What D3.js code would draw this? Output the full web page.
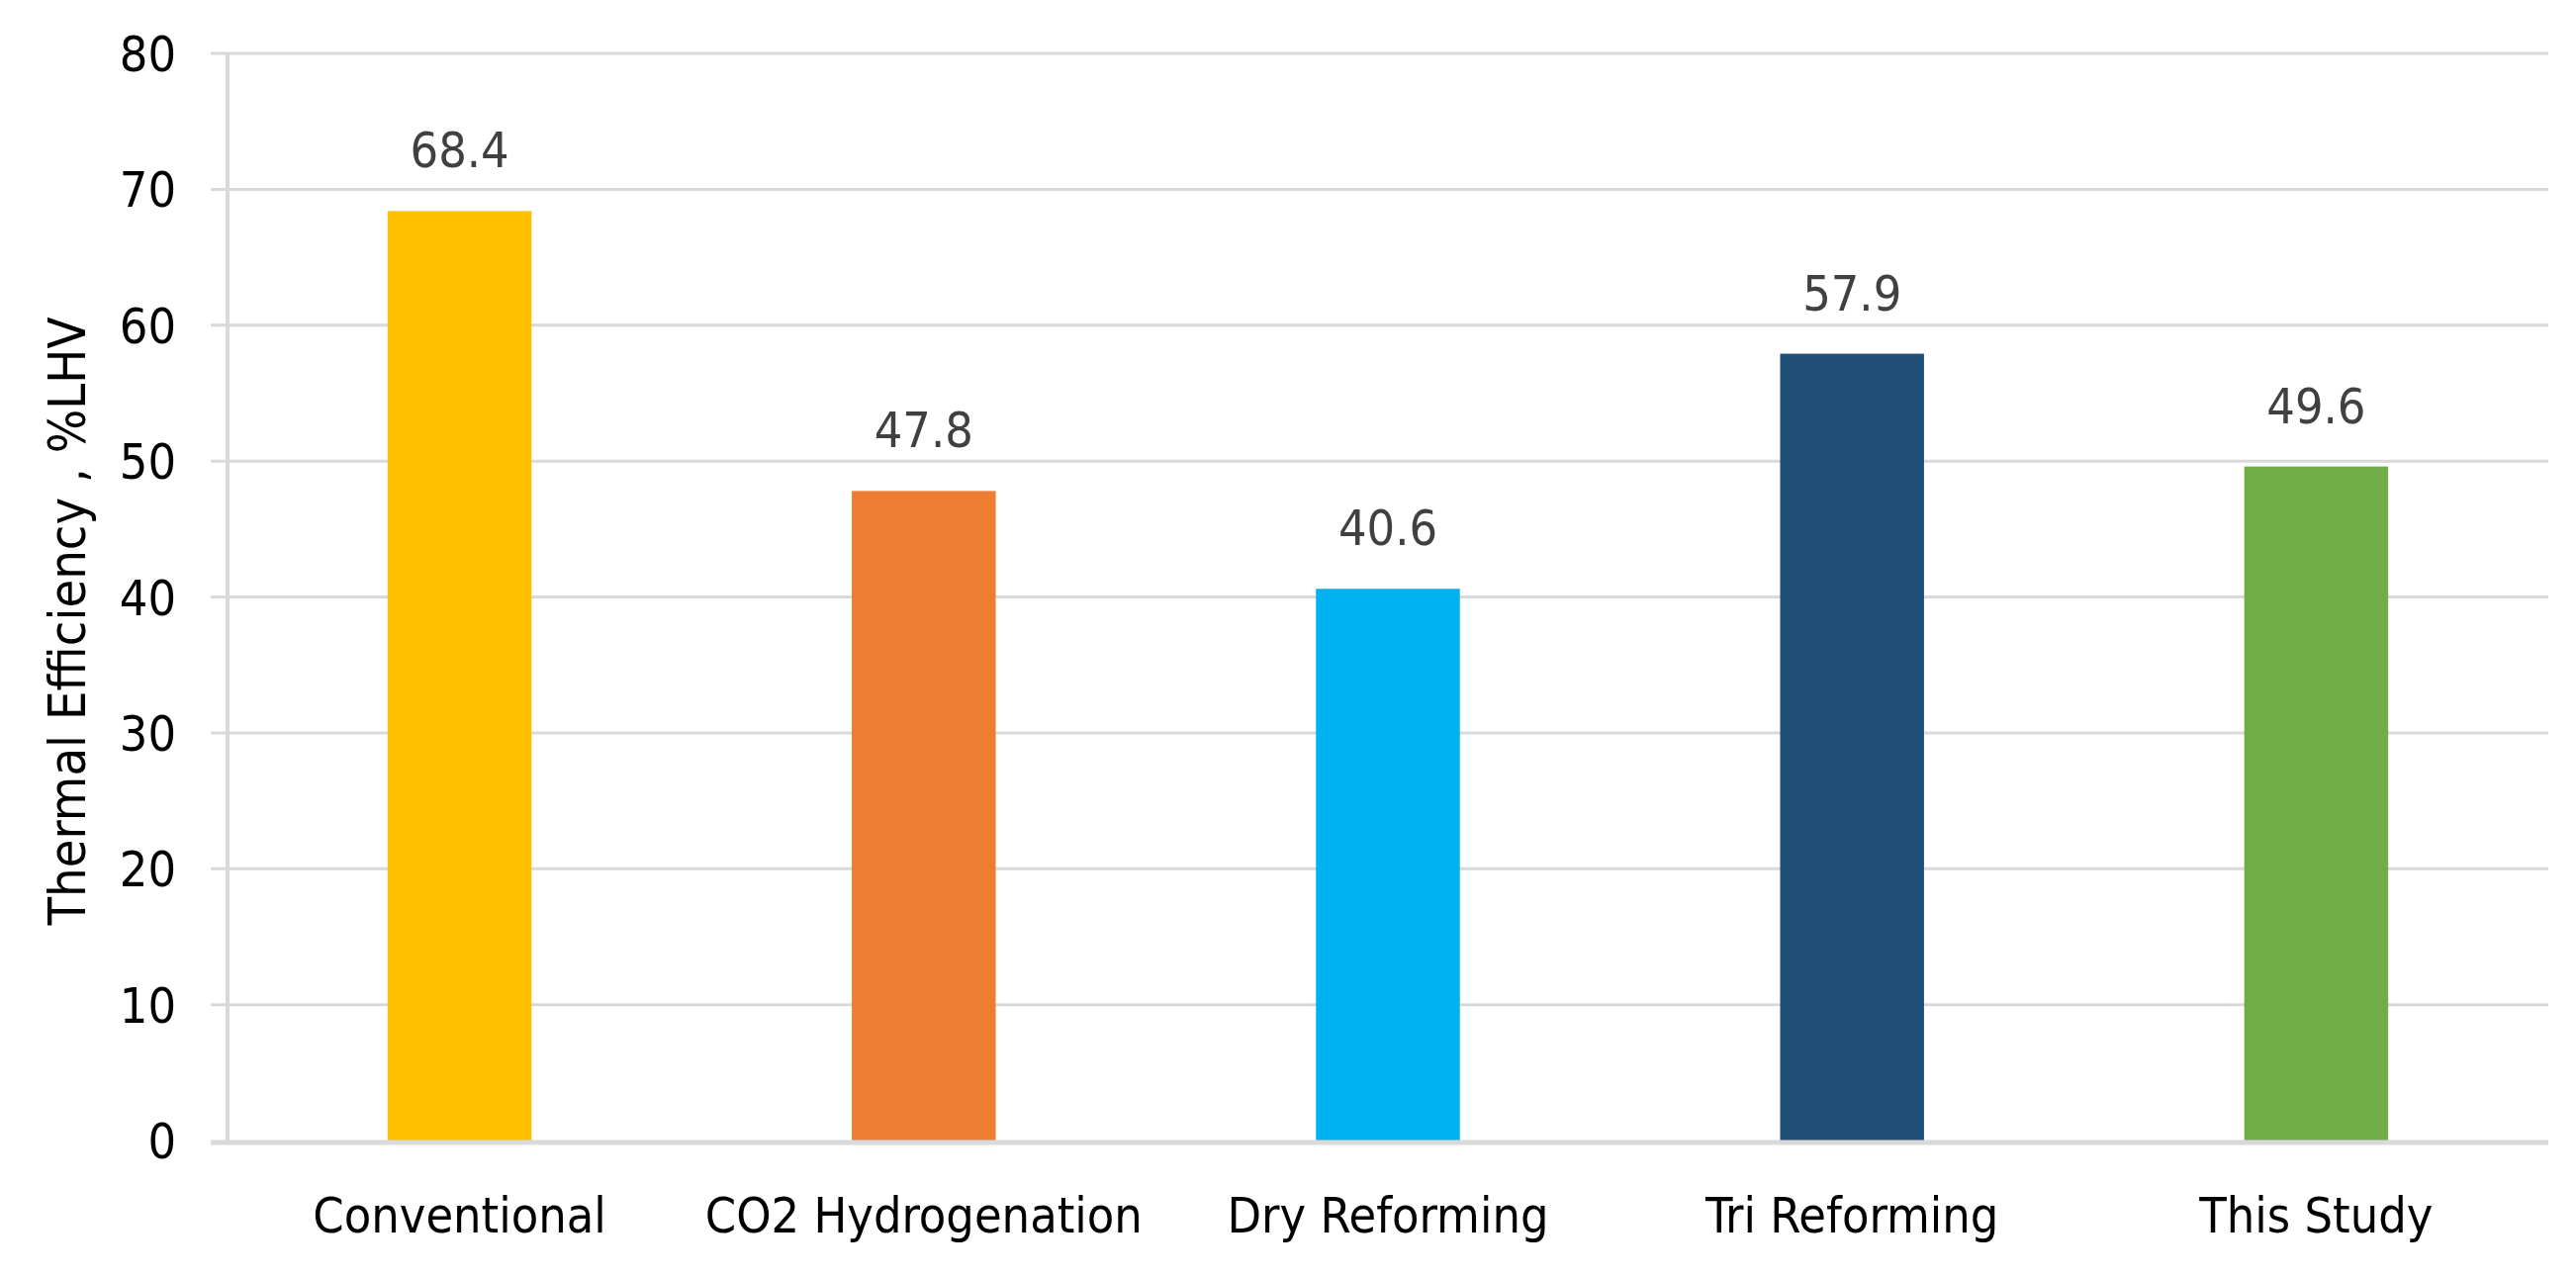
<!DOCTYPE html>
<html>
<head>
<meta charset="utf-8">
<script src="https://cdn.jsdelivr.net/npm/d3@7"></script>
<style>
  body { margin: 0; background: #fff; }
  text { font-family: "DejaVu Sans Condensed", "DejaVu Sans", sans-serif; font-stretch: condensed; }
</style>
</head>
<body>
<div id="chart"></div>
<script>
// categories and values
var categories = ["Conventional", "CO2 Hydrogenation", "Dry Reforming", "Tri Reforming", "This Study"];
var values = [68.4, 47.8, 40.6, 57.9, 49.6];
var barColors = ["#FFC000", "#ED7D31", "#00B0F0", "#1F4E79", "#70AD47"];
var yTicks = [0, 10, 20, 30, 40, 50, 60, 70, 80];
var yTitle = "Thermal Efficiency , %LHV";

var W = 2604, H = 1291;
var margin = { left: 230, right: 2576, top: 54, bottom: 1153 };

var svg = d3.select("#chart")
    .append("svg")
    .attr("width", W)
    .attr("height", H);

// scales
var x = d3.scaleBand()
    .domain(categories)
    .range([margin.left, margin.right])
    .paddingInner(0.69)
    .paddingOuter(0.345);

var y = d3.scaleLinear()
    .domain([0, 80])
    .range([margin.bottom, margin.top]);

// gridlines (with the short tick stubs left of the axis)
svg.append("g")
    .selectAll("line")
    .data(yTicks.filter(function (d) { return d > 0; }))
    .enter()
    .append("line")
    .attr("x1", margin.left - 17)
    .attr("x2", margin.right)
    .attr("y1", function (d) { return y(d); })
    .attr("y2", function (d) { return y(d); })
    .attr("stroke", "#d9d9d9")
    .attr("stroke-width", 3);

// vertical axis line
svg.append("line")
    .attr("x1", margin.left).attr("x2", margin.left)
    .attr("y1", y(80)).attr("y2", y(0))
    .attr("stroke", "#d9d9d9")
    .attr("stroke-width", 4);

// y tick labels
svg.append("g")
    .selectAll("text")
    .data(yTicks)
    .enter()
    .append("text")
    .attr("x", 178)
    .attr("y", function (d) { return y(d); })
    .attr("dy", "0.36em")
    .attr("text-anchor", "end")
    .style("font-size", "50px")
    .style("fill", "#000")
    .text(function (d) { return d; });

// bars
var data = categories.map(function (c, i) { return { cat: c, value: values[i], color: barColors[i] }; });

svg.append("g")
    .selectAll("rect")
    .data(data)
    .enter()
    .append("rect")
    .attr("x", function (d) { return x(d.cat); })
    .attr("y", function (d) { return y(d.value); })
    .attr("width", x.bandwidth())
    .attr("height", function (d) { return y(0) - y(d.value); })
    .attr("fill", function (d) { return d.color; });

// baseline (0 line) drawn over bar bottoms
svg.append("line")
    .attr("x1", margin.left - 17).attr("x2", margin.right)
    .attr("y1", y(0) + 2).attr("y2", y(0) + 2)
    .attr("stroke", "#d9d9d9")
    .attr("stroke-width", 5);

// value labels
svg.append("g")
    .selectAll("text")
    .data(data)
    .enter()
    .append("text")
    .attr("x", function (d) { return x(d.cat) + x.bandwidth() / 2; })
    .attr("y", function (d) { return y(d.value) - 44; })
    .attr("text-anchor", "middle")
    .style("font-size", "50px")
    .style("fill", "#404040")
    .text(function (d) { return d.value.toFixed(1); });

// category labels
svg.append("g")
    .selectAll("text")
    .data(categories)
    .enter()
    .append("text")
    .attr("x", function (d) { return x(d) + x.bandwidth() / 2; })
    .attr("y", 1246)
    .attr("text-anchor", "middle")
    .style("font-size", "50px")
    .style("fill", "#000")
    .text(function (d) { return d; });

// y axis title
svg.append("text")
    .attr("transform", "translate(86," + 628 + ") rotate(-90)")
    .attr("text-anchor", "middle")
    .style("font-size", "52px")
    .style("fill", "#000")
    .text(yTitle);
</script>
</body>
</html>
